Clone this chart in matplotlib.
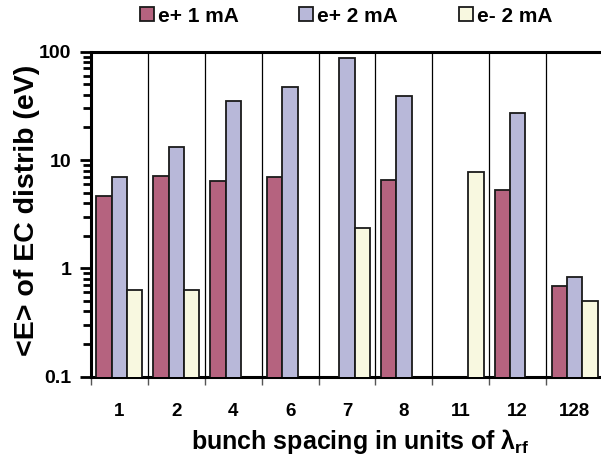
import matplotlib
matplotlib.use("Agg")
import matplotlib.pyplot as plt
import numpy as np
from matplotlib.ticker import LogLocator, NullFormatter, FixedLocator

# data (nan = no bar)
spacing = ["1", "2", "4", "6", "7", "8", "11", "12", "128"]
ep_1mA = [4.7, 7.1, 6.4, 7.0, np.nan, 6.5, np.nan, 5.3, 0.69]
ep_2mA = [6.9, 13.3, 34.9, 47.6, 88.0, 39.3, np.nan, 27.2, 0.83]
em_2mA = [0.63, 0.63, np.nan, np.nan, 2.38, np.nan, 7.8, np.nan, 0.50]
labels = ["e+ 1 mA", "e+ 2 mA", "e- 2 mA"]
colors = ["#B5637F", "#B8B8D9", "#F8F8E0"]

plt.rcParams["font.family"] = ["Liberation Sans", "DejaVu Sans"]
plt.rcParams["font.weight"] = "bold"
plt.rcParams["mathtext.fontset"] = "custom"
plt.rcParams["mathtext.rm"] = "Liberation Sans:bold"
plt.rcParams["mathtext.it"] = "Liberation Sans:bold"
plt.rcParams["mathtext.bf"] = "Liberation Sans:bold"

fig = plt.figure(figsize=(6.01, 4.59), dpi=100)
ax = fig.add_axes([91 / 601, 1 - 376.7 / 459, 512 / 601, 325 / 459])

x = np.arange(len(spacing))
w = 0.27
for k, (vals, c, lab) in enumerate(zip([ep_1mA, ep_2mA, em_2mA], colors, labels)):
    ax.bar(x + (k - 1) * w, vals, w, color=c, edgecolor="#1a1a1a", linewidth=1.3,
           label=lab, zorder=3)

ax.set_yscale("log")
ax.set_ylim(0.1, 100)
ax.set_xlim(-0.5, len(spacing) - 0.5)
ax.set_yticks([0.1, 1, 10, 100])
ax.set_yticklabels(["0.1", "1", "10", "100"])
ax.yaxis.set_minor_locator(LogLocator(base=10, subs=np.arange(2, 10)))
ax.yaxis.set_minor_formatter(NullFormatter())
ax.tick_params(axis="y", which="major", length=8, width=2, labelsize=14, pad=6)
ax.tick_params(axis="y", which="minor", length=6, width=2)

ax.xaxis.set_major_locator(FixedLocator(np.arange(len(spacing) + 1) - 0.5))
ax.xaxis.set_minor_locator(FixedLocator(x))
ax.set_xticklabels([], minor=False)
ax.set_xticklabels(spacing, minor=True)
ax.tick_params(axis="x", which="major", length=6, width=1, color="#555555")
ax.tick_params(axis="x", which="minor", length=0, labelsize=13.5, pad=19)
ax.grid(axis="x", which="major", color="black", linewidth=0.9, zorder=0)

for s in ["left", "top", "bottom"]:
    ax.spines[s].set_linewidth(2.2)
ax.spines["right"].set_visible(False)

fig.text(27 / 601, 1 - 210 / 459, "<E> of EC distrib (eV)", rotation=90,
         ha="center", va="center", fontsize=20.5, fontweight="bold")
fig.text(360 / 601, 1 - 442 / 459, r"bunch spacing in units of $\mathrm{\lambda_{rf}}$",
         ha="center", va="center", fontsize=18, fontweight="bold")

fig.legend(loc="center", bbox_to_anchor=(346 / 601, 1 - 16 / 459), ncol=3, frameon=False,
           fontsize=15, handlelength=0.68, handleheight=0.68, handletextpad=0.2,
           columnspacing=2.9)

fig.savefig("out.png", dpi=100)
